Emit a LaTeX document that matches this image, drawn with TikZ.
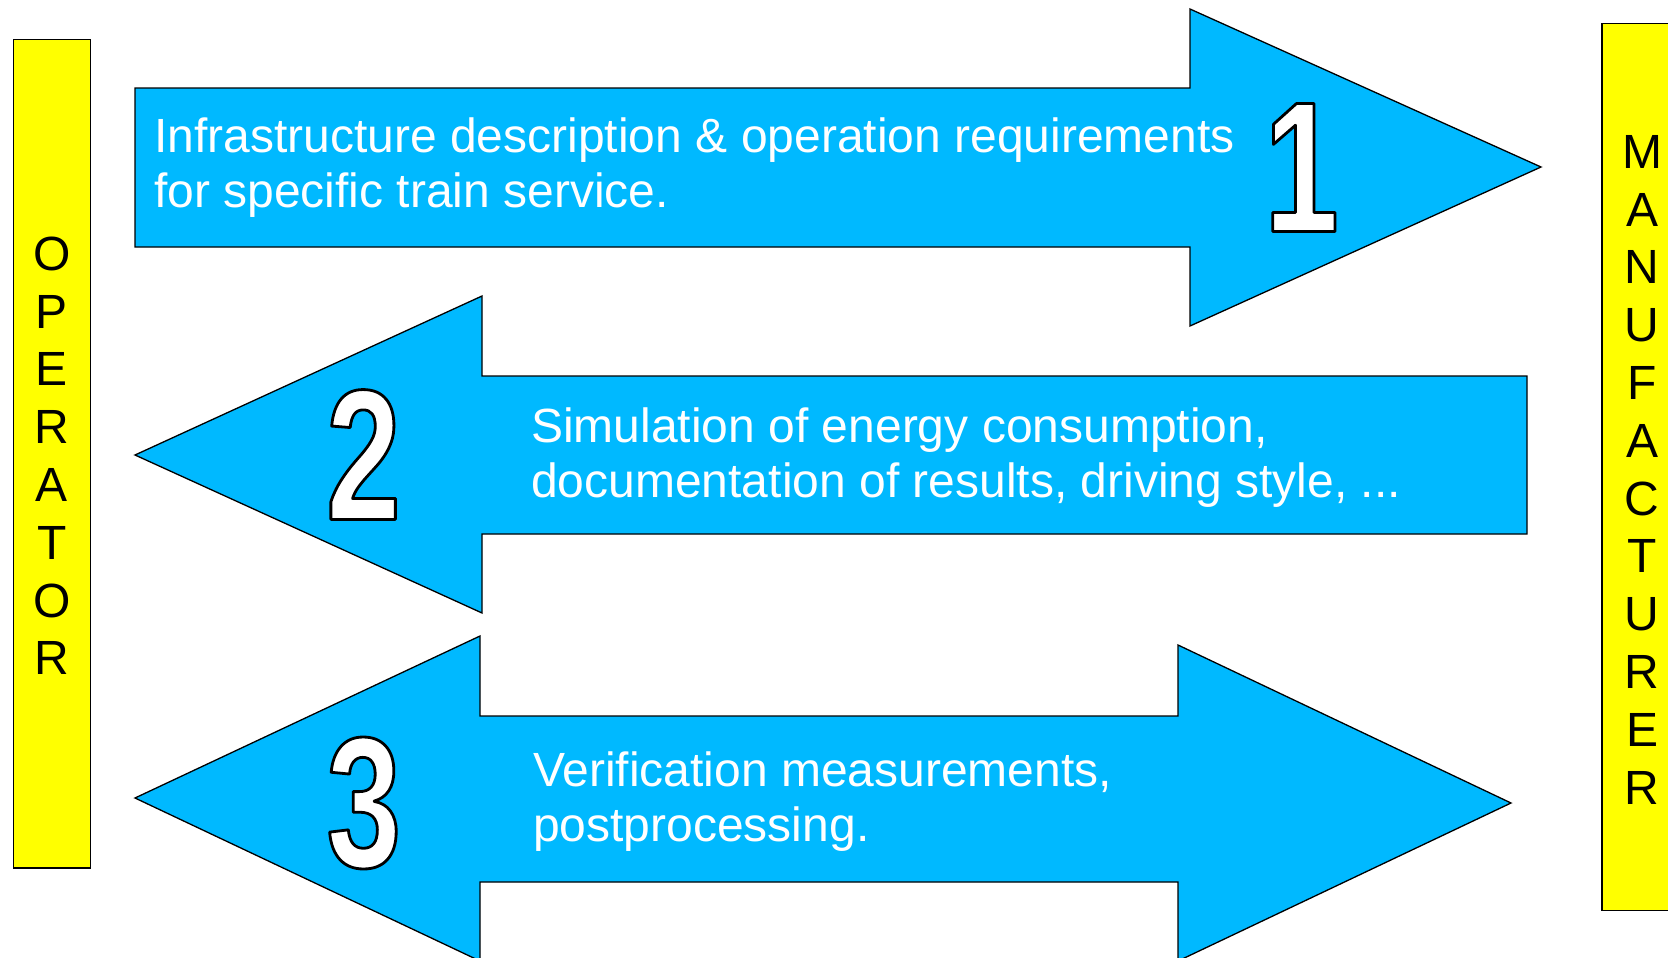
\documentclass[tikz,border=0pt]{standalone}
\usepackage{fontspec}
\setmainfont{Liberation Sans}
\newfontfamily\numfont{Liberation Sans}[FakeStretch=0.72]
\definecolor{arrowblue}{RGB}{0,185,255}
\definecolor{sideyellow}{RGB}{255,255,0}
\newcommand\mydigit[4]{%
  \node[numw] (#1) at (#2,#3) {\special{pdf:literal direct 2 Tr 2.8 w 1 j 0 G}#4\special{pdf:literal direct 0 Tr}};
}
\begin{document}
\begin{tikzpicture}[x=1pt,y=-1pt,
  arrowshape/.style={fill=arrowblue,draw=black,line width=1.3pt,line join=miter},
  sidebox/.style={fill=sideyellow,draw=black,line width=1.3pt},
  bodytext/.style={text=white,font=\fontsize{48}{56}\selectfont,inner sep=0pt,anchor=base west},
  sideletter/.style={text=black,font=\fontsize{48}{56}\selectfont,inner sep=0pt,anchor=base},
  numw/.style={text=white,font=\numfont\bfseries\fontsize{186}{186}\selectfont,inner sep=0pt,anchor=center}
]
\useasboundingbox (0,0) rectangle (1668,958);
\clip (0,0) rectangle (1668,958);
\fill[white] (0,0) rectangle (1668,958);
% side boxes
\draw[sidebox] (13.8,39.4) rectangle (90.4,868);
\draw[sidebox] (1602,23.4) rectangle (1690,910.6);
\foreach \ch [count=\i] in {O,P,E,R,A,T,O,R}
  \node[sideletter] (op\i) at (52,{270.2+(\i-1)*57.8}) {\ch};
\foreach \ch [count=\i] in {M,A,N,U,F,A,C,T,U,R,E,R}
  \node[sideletter] (mf\i) at (1642,{168.2+(\i-1)*57.8}) {\ch};
% arrows
\draw[arrowshape] (135,88) -- (1190,88) -- (1190,9) -- (1541,167) -- (1190,326) -- (1190,247) -- (135,247) -- cycle;
\draw[arrowshape] (135,455) -- (482,296) -- (482,376) -- (1527,376) -- (1527,534) -- (482,534) -- (482,613) -- cycle;
\draw[arrowshape] (135,798) -- (480,636) -- (480,716) -- (1178,716) -- (1178,645) -- (1511,803) -- (1178,961) -- (1178,882) -- (480,882) -- (480,961) -- cycle;
% texts
\node[bodytext] (t1a) at (154,152) {Infrastructure description \& operation requirements};
\node[bodytext] (t1b) at (154,207.5) {for specific train service.};
\node[bodytext] (t2a) at (531,442) {Simulation of energy consumption,};
\node[bodytext] (t2b) at (531,497.5) {documentation of results, driving style, ...};
\node[bodytext] (t3a) at (533,786) {Verification measurements,};
\node[bodytext] (t3b) at (533,841) {postprocessing.};
% numbers
\mydigit{n1}{1301.5}{167.5}{1}
\mydigit{n2}{363.5}{454.5}{2}
\mydigit{n3}{363.8}{803}{3}
\end{tikzpicture}
\end{document}
